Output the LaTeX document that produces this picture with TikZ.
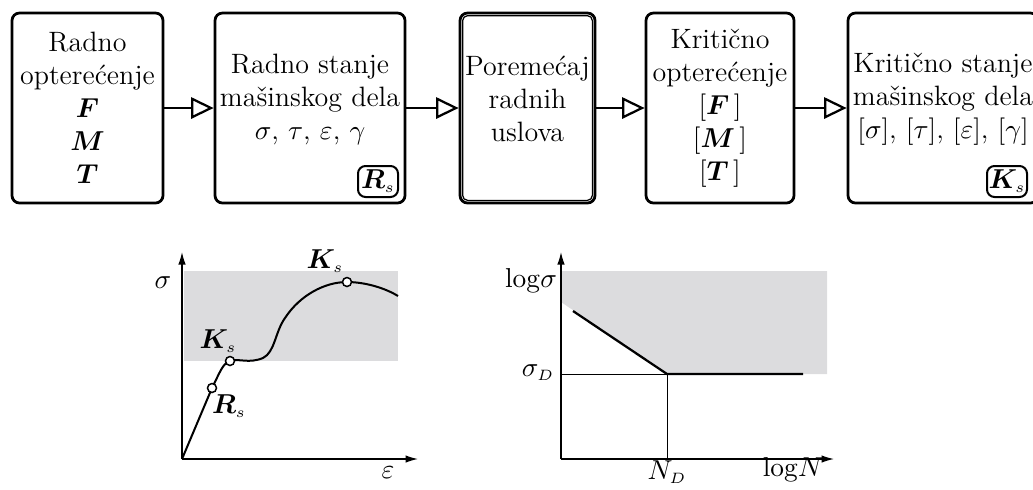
\documentclass[tikz,border=0pt]{standalone}
\usepackage{amsmath}
\usepackage{bm}
\usepackage{tikz}
\usetikzlibrary{arrows.meta, positioning, calc}
\definecolor{zonegray}{HTML}{DCDCDE}
\newcommand{\sub}[1]{_{\scriptscriptstyle #1}}
\begin{document}
\begin{tikzpicture}[x=0.4pt, y=-0.4pt, every node/.style={font=\fontsize{11.2}{13.2}\selectfont}]
\tikzstyle{stage}=[rectangle, rounded corners=3pt, draw=black, line width=1.1pt,
  minimum height=76pt, inner sep=0pt]
\tikzstyle{txt}=[align=center, inner sep=0pt]
\tikzstyle{tag}=[rectangle, rounded corners=3pt, draw=black, line width=0.8pt,
  minimum width=16pt, minimum height=12.4pt, inner sep=0pt]
\tikzstyle{flow}=[line width=0.8pt, -{Triangle[open,length=9pt,width=8.5pt,line width=0.9pt]}]
\tikzstyle{axis}=[line width=0.5pt, -{Latex[length=5pt,width=3pt]}]
\tikzstyle{dot}=[circle, draw=black, fill=white, line width=0.6pt, inner sep=0pt, minimum size=3.6pt]
\useasboundingbox (0,0) rectangle (1033,489);

% stages of the machine part
\node[stage, minimum width=60.4pt] (b1) at (87.5,108) {};
\node[txt] (t1) at (87.5,108) {Radno\\opterećenje\\$\bm{F}$\\$\bm{M}$\\$\bm{T}$};
\node[stage, minimum width=76pt] (b2) at (310,108) {};
\node[txt] (t2) at (310,99) {Radno stanje\\mašinskog dela\\$\sigma$, $\tau$, $\varepsilon$, $\gamma$};
\node[tag] (rs) at (378,181.5) {$\bm{R}\sub{s}$};
\node[stage, minimum width=54pt] (b3) at (527.5,108) {};
\draw[line width=0.5pt, rounded corners=2pt] ($(b3.north west)+(4,4)$) rectangle ($(b3.south east)+(-4,-4)$);
\node[txt] (t3) at (527.5,99) {Poremećaj\\radnih\\uslova};
\node[stage, minimum width=59.2pt] (b4) at (720,108) {};
\node[txt] (t4) at (720,108) {Kritično\\opterećenje\\$[\bm{F}\,]$\\$[\bm{M}\,]$\\$[\bm{T}\,]$};
\node[stage, minimum width=76pt] (b5) at (943,108) {};
\node[txt] (t5) at (943,99) {Kritično stanje\\mašinskog dela\\$[\sigma]$, $[\tau]$, $[\varepsilon]$, $[\gamma]$};
\node[tag] (ks) at (1007,181.5) {$\bm{K}\sub{s}$};
\draw[flow] (b1) -- (b2);
\draw[flow] (b2) -- (b3);
\draw[flow] (b3) -- (b4);
\draw[flow] (b4) -- (b5);

% stress-strain diagram
\fill[zonegray] (184,271) rectangle (398,361);
\coordinate (o1) at (182,459);
\draw[axis] (o1) -- (182,252);
\draw[axis] (o1) -- (418,459);
\node (sig) at (163,283) {$\sigma$};
\node (eps) at (388,473) {$\varepsilon$};
\coordinate (p1) at (212,388);
\coordinate (p2) at (230,361);
\coordinate (p3) at (347,282);
\draw[line width=0.8pt] (o1) -- (p1) .. controls (220,372) and (223,363) .. (p2)
  .. controls (240,358) and (248,364) .. (263,358)
  .. controls (275,352) and (275,332) .. (285,318)
  .. controls (300,295) and (325,282) .. (p3)
  .. controls (365,282) and (385,288) .. (398,296);
\node[dot] (m1) at (p1) {};
\node[dot] (m2) at (p2) {};
\node[dot] (m3) at (p3) {};
\node (l1) at (229,406) {$\bm{R}\sub{s}$};
\node (l2) at (218,341) {$\bm{K}\sub{s}$};
\node (l3) at (325,261) {$\bm{K}\sub{s}$};

% fatigue diagram
\fill[zonegray] (561,271) -- (827,271) -- (827,374) -- (667,374) -- (561,302) -- cycle;
\coordinate (o2) at (561,459);
\coordinate (nd) at (667,374);
\draw[line width=0.4pt] (561,374) -- (nd) -- (667,459);
\draw[axis] (o2) -- (561,252);
\draw[axis] (o2) -- (834,459);
\draw[line width=0.9pt] (573,311) -- (nd) -- (803,374);
\node (lsig) at (531,281) {$\log\!\sigma$};
\node (sd) at (538,373) {$\sigma\sub{D}$};
\node (lnd) at (667,472) {$N\sub{D}$};
\node (lgn) at (793,470) {$\log\!N$};
\end{tikzpicture}
\end{document}
